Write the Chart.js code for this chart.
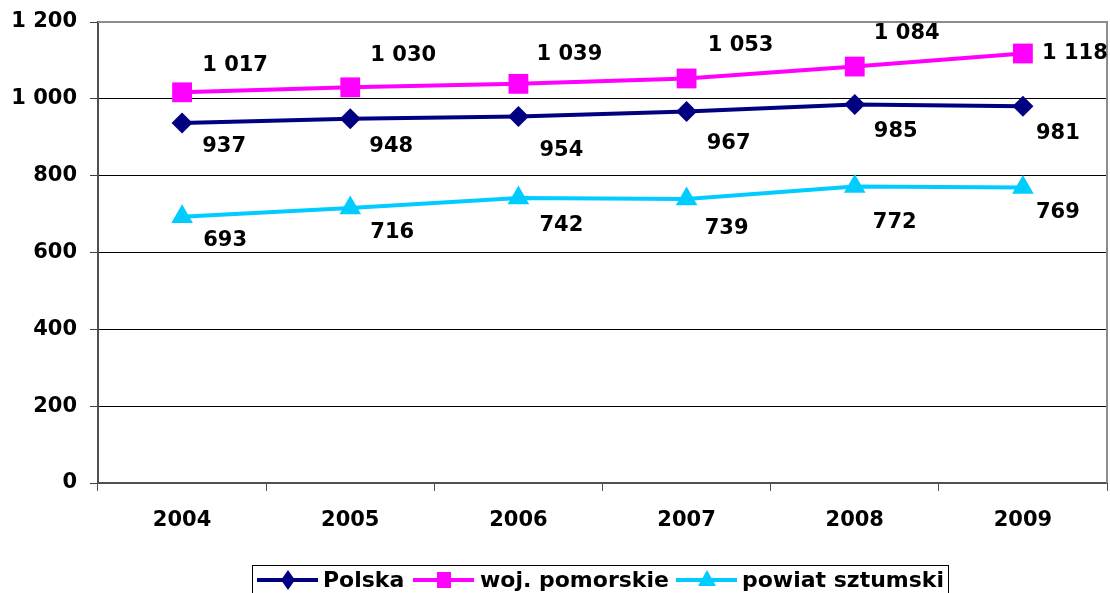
<!DOCTYPE html>
<html>
<head>
<meta charset="utf-8">
<script src="https://cdn.jsdelivr.net/npm/chart.js@4.4.0/dist/chart.umd.min.js"></script>
<style>body{margin:0;background:#fff}</style>
</head>
<body>
<canvas id="myChart" width="1110" height="593"></canvas>
<script>
const years = ["2004", "2005", "2006", "2007", "2008", "2009"];
const polska = [937, 948, 954, 967, 985, 981];
const pomorskie = [1017, 1030, 1039, 1053, 1084, 1118];
const sztumski = [693, 716, 742, 739, 772, 769];
const yTicks = [0, 200, 400, 600, 800, 1000, 1200];

const FONT = "'DejaVu Sans', Verdana, sans-serif";

// space as thousands separator, like "1 200"
function fmt(v) {
    return String(v).replace(/\B(?=(\d{3})+(?!\d))/g, ' ');
}

// chart.js keeps some right margin for the x labels, push plot to the edge
const stretchRight = {
    id: 'stretchRight',
    afterLayout(chart) {
        const right = chart.width - 3;
        const x = chart.scales.x;
        chart.chartArea.right = right;
        chart.chartArea.width = right - chart.chartArea.left;
        x.right = right;
        x.width = right - x.left;
        x.configure();
    }
};

// value labels next to the points
const pointLabels = {
    id: 'pointLabels',
    afterDatasetsDraw(chart) {
        const ctx = chart.ctx;
        ctx.save();
        ctx.font = 'bold 21px ' + FONT;
        ctx.fillStyle = '#000';
        ctx.textAlign = 'center';
        ctx.textBaseline = 'middle';
        chart.data.datasets.forEach((ds, i) => {
            const meta = chart.getDatasetMeta(i);
            meta.data.forEach((pt, j) => {
                const off = ds.labelOffsets[j];
                ctx.fillText(fmt(ds.data[j]), pt.x + off[0], pt.y + off[1]);
            });
        });
        ctx.restore();
    }
};

// gray frame on top and right of the plot area
const plotFrame = {
    id: 'plotFrame',
    beforeDatasetsDraw(chart) {
        const a = chart.chartArea;
        const ctx = chart.ctx;
        ctx.save();
        ctx.strokeStyle = '#8c8c8c';
        ctx.lineWidth = 2;
        ctx.beginPath();
        ctx.moveTo(a.left, a.top);
        ctx.lineTo(a.right, a.top);
        ctx.lineTo(a.right, a.bottom);
        ctx.stroke();
        ctx.restore();
    }
};

// boxed legend at the bottom, line + marker style
const boxLegend = {
    id: 'boxLegend',
    afterDraw(chart) {
        const ctx = chart.ctx;
        const y = 580;
        const items = [
            { x0: 257, tx: 323, ds: 0 },
            { x0: 413, tx: 480, ds: 1 },
            { x0: 676, tx: 742, ds: 2 }
        ];
        ctx.save();
        ctx.strokeStyle = '#000';
        ctx.lineWidth = 1;
        ctx.strokeRect(252.5, 565.5, 696, 40);
        items.forEach(it => {
            const ds = chart.data.datasets[it.ds];
            const cx = it.x0 + 31;
            ctx.strokeStyle = ds.borderColor;
            ctx.fillStyle = ds.borderColor;
            ctx.lineWidth = 4;
            ctx.beginPath();
            ctx.moveTo(it.x0, y);
            ctx.lineTo(it.x0 + 61, y);
            ctx.stroke();
            ctx.beginPath();
            if (ds.pointStyle === 'rectRot') {
                ctx.moveTo(cx - 7, y);
                ctx.lineTo(cx, y - 10);
                ctx.lineTo(cx + 7, y);
                ctx.lineTo(cx, y + 10);
            } else if (ds.pointStyle === 'rect') {
                ctx.rect(cx - 7, y - 8, 14, 16);
            } else {
                ctx.moveTo(cx, y - 10);
                ctx.lineTo(cx + 9, y + 6);
                ctx.lineTo(cx - 9, y + 6);
            }
            ctx.closePath();
            ctx.fill();
            ctx.fillStyle = '#000';
            ctx.font = 'bold 22px ' + FONT;
            ctx.textAlign = 'left';
            ctx.textBaseline = 'middle';
            ctx.fillText(ds.label, it.tx, y + 1);
        });
        ctx.restore();
    }
};

const ctx = document.getElementById("myChart");

let myChart = new Chart(ctx, {
    type: 'line',
    data: {
        labels: years,
        datasets: [
            {
                label: "Polska",
                data: polska,
                borderColor: "#000080",
                backgroundColor: "#000080",
                borderWidth: 4,
                pointStyle: 'rectRot',
                pointRadius: 10.5,
                pointBorderWidth: 0,
                labelOffsets: [[42, 24], [41, 28], [43, 34], [42, 32], [41, 27], [35, 27]]
            },
            {
                label: "woj. pomorskie",
                data: pomorskie,
                borderColor: "#ff00ff",
                backgroundColor: "#ff00ff",
                borderWidth: 4,
                pointStyle: 'rect',
                pointRadius: 14,
                pointBorderWidth: 0,
                labelOffsets: [[53, -27], [53, -32], [51, -29], [54, -33], [52, -33], [52, 0]]
            },
            {
                label: "powiat sztumski",
                data: sztumski,
                borderColor: "#00ccff",
                backgroundColor: "#00ccff",
                borderWidth: 4,
                pointStyle: 'triangle',
                pointRadius: 12.5,
                pointBorderWidth: 0,
                labelOffsets: [[43, 24], [42, 25], [43, 28], [40, 29], [40, 36], [35, 25]]
            }
        ]
    },
    options: {
        responsive: false,
        animation: false,
        font: { family: FONT },
        layout: { padding: { top: 22, right: 3, left: 0, bottom: 0 } },
        plugins: {
            legend: { display: false },
            tooltip: { enabled: false }
        },
        scales: {
            x: {
                offset: true,
                afterFit: (s) => {
                    s.height = 110;
                    s.paddingLeft = 0;
                    s.paddingRight = 0;
                },
                border: { color: '#505050', width: 2 },
                grid: {
                    offset: true,
                    drawOnChartArea: false,
                    tickLength: 8,
                    color: '#505050'
                },
                ticks: {
                    color: '#000',
                    padding: 17,
                    font: { family: FONT, size: 21, weight: 'bold' }
                }
            },
            y: {
                min: 0,
                max: 1200,
                afterFit: (s) => {
                    s.width = 98;
                    s.paddingTop = 0;
                    s.paddingBottom = 0;
                },
                afterBuildTicks: (s) => { s.ticks = yTicks.map(v => ({ value: v })); },
                border: { color: '#505050', width: 2 },
                grid: {
                    tickLength: 8,
                    color: (c) => (c.tick && (c.tick.value === 1200 || c.tick.value === 0)) ? 'rgba(0,0,0,0)' : '#000',
                    tickColor: '#404040',
                    lineWidth: 1
                },
                ticks: {
                    color: '#000',
                    padding: 13,
                    callback: (v) => fmt(v),
                    font: { family: FONT, size: 21, weight: 'bold' }
                }
            }
        }
    },
    plugins: [stretchRight, plotFrame, pointLabels, boxLegend]
});
</script>
</body>
</html>
